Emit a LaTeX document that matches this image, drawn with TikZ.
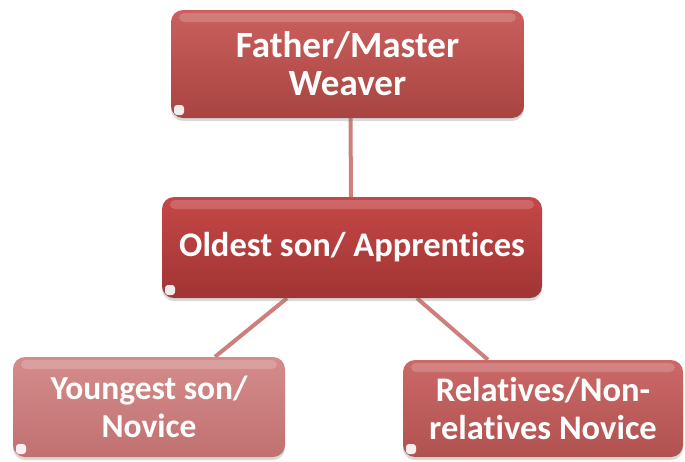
\documentclass[tikz,border=0pt]{standalone}
\usepackage{fontspec}
\setmainfont{Carlito}[Ligatures=NoCommon]
\usetikzlibrary{shadows,backgrounds,calc}
\definecolor{linkred}{HTML}{CD7F7E}
\definecolor{fathertop}{HTML}{CB605D}
\definecolor{fatherbot}{HTML}{A74441}
\definecolor{oldesttop}{HTML}{C54747}
\definecolor{oldestbot}{HTML}{A03533}
\definecolor{youngtop}{HTML}{D48C8B}
\definecolor{youngbot}{HTML}{C07170}
\definecolor{reltop}{HTML}{CB6967}
\definecolor{relbot}{HTML}{B05250}
\tikzset{
  box/.style={rounded corners=12pt, text=white, align=center, inner sep=0pt,
    drop shadow={opacity=0.3, shadow xshift=0pt, shadow yshift=-3pt},
    path picture={
      % glossy highlight along the top edge
      \fill[white, opacity=0.18, rounded corners=5pt]
        ($(path picture bounding box.north west)+(8,3)$) rectangle
        ($(path picture bounding box.north east)+(-8,12)$);
      % small light tab in the lower left corner
      \fill[white, opacity=0.9, rounded corners=3pt]
        ($(path picture bounding box.south west)+(3,-3)$) rectangle ++(10,-10);
    }},
  boxtext/.style={font=\bfseries\fontsize{#1}{38}\selectfont},
  link/.style={draw=linkred, line width=4pt}
}
\begin{document}
\begin{tikzpicture}[x=1pt,y=-1pt]
\useasboundingbox (0,0) rectangle (685,461);

\node[box, boxtext=37, top color=fathertop, bottom color=fatherbot,
  minimum width=353pt, minimum height=108pt] (father) at (347.5,64)
  {Father/Master\\Weaver};

\node[box, boxtext=34.5, top color=oldesttop, bottom color=oldestbot,
  minimum width=380pt, minimum height=101pt] (oldest) at (352,247.5)
  {Oldest son/ Apprentices};

\node[box, boxtext=33.5, top color=youngtop, bottom color=youngbot,
  minimum width=272pt, minimum height=100pt] (youngest) at (149,407)
  {Youngest son/\\Novice};

\node[box, boxtext=34.5, top color=reltop, bottom color=relbot,
  minimum width=280pt, minimum height=97pt] (relatives) at (543,408.5)
  {Relatives/Non-\\relatives Novice};

\begin{scope}[on background layer]
  \draw[link] ($(father.south)+(3,0)$) -- ($(oldest.north)+(-1,0)$);
  \draw[link] ($(oldest.south)+(-65,0)$) -- ($(youngest.north)+(66,0)$);
  \draw[link] ($(oldest.south)+(65,0)$) -- ($(relatives.north)+(-55,0)$);
\end{scope}
\end{tikzpicture}
\end{document}
